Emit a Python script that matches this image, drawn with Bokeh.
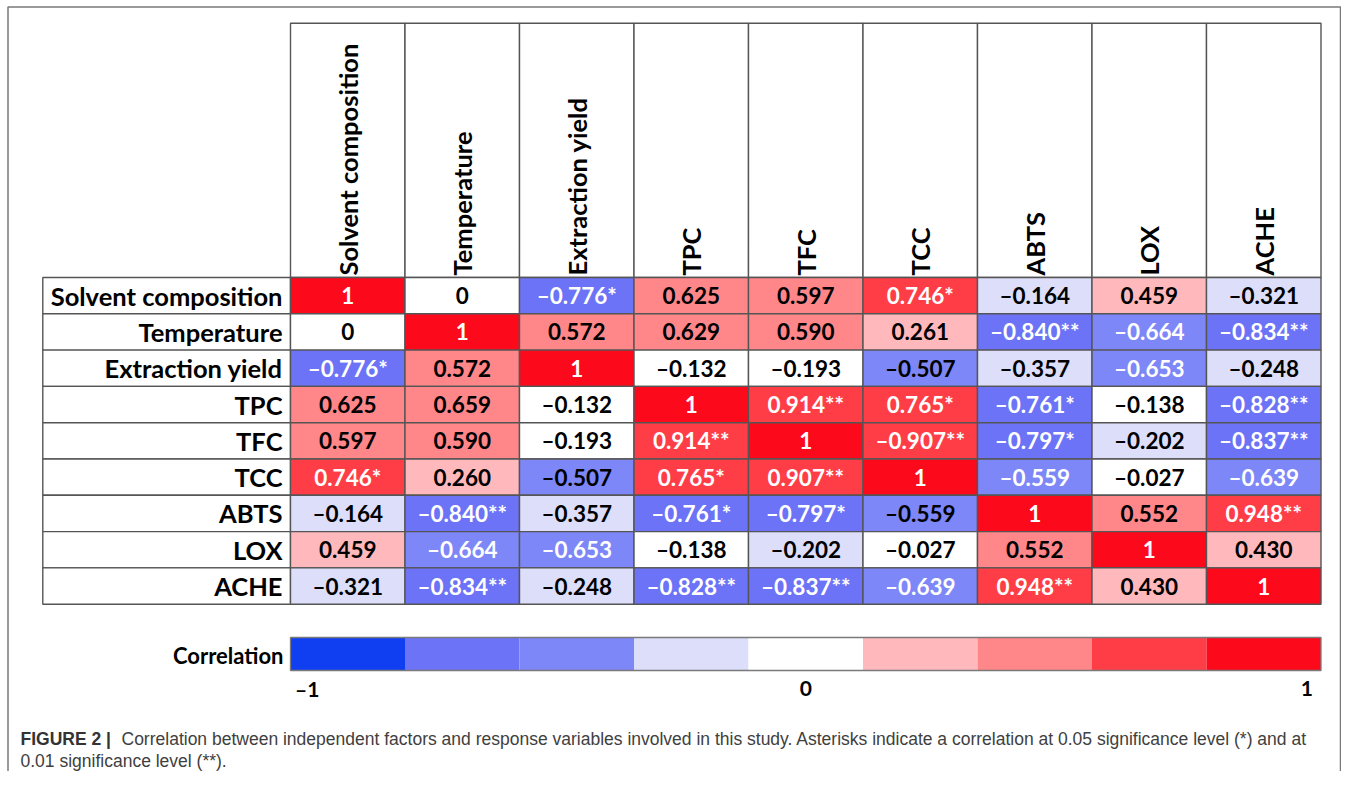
import numpy as np
from bokeh.plotting import figure
from bokeh.models import Range1d, ColumnDataSource
from bokeh.core.properties import value
from bokeh.embed import file_html
from bokeh.resources import INLINE

# ---------------- data ----------------
variables = ["Solvent composition", "Temperature", "Extraction yield", "TPC", "TFC",
             "TCC", "ABTS", "LOX", "ACHE"]

# printed cell labels, row by row (as shown in the table)
labels_sc   = ["1", "0", "–0.776*", "0.625", "0.597", "0.746*", "–0.164", "0.459", "–0.321"]
labels_temp = ["0", "1", "0.572", "0.629", "0.590", "0.261", "–0.840**", "–0.664", "–0.834**"]
labels_ey   = ["–0.776*", "0.572", "1", "–0.132", "–0.193", "–0.507", "–0.357", "–0.653", "–0.248"]
labels_tpc  = ["0.625", "0.659", "–0.132", "1", "0.914**", "0.765*", "–0.761*", "–0.138", "–0.828**"]
labels_tfc  = ["0.597", "0.590", "–0.193", "0.914**", "1", "–0.907**", "–0.797*", "–0.202", "–0.837**"]
labels_tcc  = ["0.746*", "0.260", "–0.507", "0.765*", "0.907**", "1", "–0.559", "–0.027", "–0.639"]
labels_abts = ["–0.164", "–0.840**", "–0.357", "–0.761*", "–0.797*", "–0.559", "1", "0.552", "0.948**"]
labels_lox  = ["0.459", "–0.664", "–0.653", "–0.138", "–0.202", "–0.027", "0.552", "1", "0.430"]
labels_ache = ["–0.321", "–0.834**", "–0.248", "–0.828**", "–0.837**", "–0.639", "0.948**", "0.430", "1"]

# colour class of each cell (index into the 9-step colour scale)
level_sc   = [8, 4, 1, 6, 6, 7, 3, 5, 3]
level_temp = [4, 8, 6, 6, 6, 5, 1, 2, 1]
level_ey   = [1, 6, 8, 4, 4, 2, 3, 2, 3]
level_tpc  = [6, 6, 4, 8, 7, 7, 1, 4, 1]
level_tfc  = [6, 6, 4, 7, 8, 7, 1, 3, 1]
level_tcc  = [7, 5, 2, 7, 7, 8, 2, 4, 2]
level_abts = [3, 1, 3, 1, 1, 2, 8, 6, 7]
level_lox  = [5, 2, 2, 4, 3, 4, 6, 8, 5]
level_ache = [3, 1, 3, 1, 1, 2, 7, 5, 8]

# white (1) or black (0) label text
white_sc   = [1, 0, 1, 0, 0, 1, 0, 0, 0]
white_temp = [0, 1, 0, 0, 0, 0, 1, 1, 1]
white_ey   = [1, 0, 1, 0, 0, 0, 0, 1, 0]
white_tpc  = [0, 0, 0, 1, 1, 1, 1, 0, 1]
white_tfc  = [0, 0, 0, 1, 1, 1, 1, 0, 1]
white_tcc  = [1, 0, 0, 1, 1, 1, 1, 0, 1]
white_abts = [0, 1, 0, 1, 1, 0, 1, 0, 1]
white_lox  = [0, 1, 1, 0, 0, 0, 0, 1, 0]
white_ache = [0, 1, 0, 1, 1, 1, 1, 0, 1]

scale_colors = ["#0f3ff0", "#6c73f6", "#7e87f7", "#dcdefa", "#ffffff",
                "#ffb9bc", "#ff8689", "#ff3d47", "#fc0a1c"]
scale_ticks = [-1, 0, 1]
scale_tick_labels = ["–1", "0", "1"]

caption_bold = "FIGURE 2 |"
caption_line1 = ("Correlation between independent factors and response variables involved in this study. "
                 "Asterisks indicate a correlation at 0.05 significance level (*) and at")
caption_line2 = "0.01 significance level (**)."

labels = [labels_sc, labels_temp, labels_ey, labels_tpc, labels_tfc, labels_tcc,
          labels_abts, labels_lox, labels_ache]
levels = [level_sc, level_temp, level_ey, level_tpc, level_tfc, level_tcc,
          level_abts, level_lox, level_ache]
whites = [white_sc, white_temp, white_ey, white_tpc, white_tfc, white_tcc,
          white_abts, white_lox, white_ache]

# ---------------- layout ----------------
W, H = 1341, 771
CELL_W, CELL_H = 114.5, 36.3
X0, Y0 = 290.0, 277.0   # position of the first cell's top-left corner


def dx(px):
    return (px - X0) / CELL_W


def dy(py):
    return (py - Y0) / CELL_H


n = len(variables)
FONT = value("Lato")
GRID = "#555555"

p = figure(width=W, height=H,
           x_range=Range1d(dx(0), dx(W)),
           y_range=Range1d(dy(H), dy(0)),
           output_backend="svg", toolbar_location=None,
           x_axis_location=None, y_axis_location=None, min_border=0)
p.grid.visible = False
p.outline_line_color = None
p.background_fill_color = "white"
p.border_fill_color = "white"

# outer figure frame (open at the bottom)
p.multi_line(xs=[[dx(7.5), dx(7.5), dx(1340), dx(1340)]],
             ys=[[dy(790), dy(6.5), dy(6.5), dy(790)]],
             line_color="#7a7a7a", line_width=1.5)

# column header boxes
cols = list(range(n))
hdr_top = dy(22.7)
p.quad(left=cols, right=[c + 1 for c in cols], top=[hdr_top] * n, bottom=[0] * n,
       fill_color="white", line_color=GRID, line_width=1.4)
p.text(x=[c + 0.5 for c in cols], y=[dy(275)] * n, text=variables, angle=np.pi / 2,
       text_align="left", text_baseline="middle", text_font=FONT,
       text_font_style="bold", text_font_size="25.5px", text_color="black")

# row header boxes
lab_left = dx(42.3)
p.quad(left=[lab_left] * n, right=[0] * n, top=cols, bottom=[r + 1 for r in cols],
       fill_color="white", line_color=GRID, line_width=1.4)
p.text(x=[dx(282)] * n, y=[r + 0.5 for r in cols], text=variables,
       text_align="right", text_baseline="middle", text_font=FONT,
       text_font_style="bold", text_font_size="25.5px", text_color="black")

# heat-map cells
cx, cy, ctext, cfill, ctc = [], [], [], [], []
for r in range(n):
    for c in range(n):
        cx.append(c)
        cy.append(r)
        ctext.append(labels[r][c])
        cfill.append(scale_colors[levels[r][c]])
        ctc.append("white" if whites[r][c] else "black")
src = ColumnDataSource(dict(left=cx, right=[v + 1 for v in cx], top=cy,
                            bottom=[v + 1 for v in cy], xc=[v + 0.5 for v in cx],
                            yc=[v + 0.5 for v in cy], txt=ctext, fill=cfill, tc=ctc))
p.quad(left="left", right="right", top="top", bottom="bottom", source=src,
       fill_color="fill", line_color=GRID, line_width=1.4)
p.text(x="xc", y="yc", text="txt", source=src, text_color="tc",
       text_align="center", text_baseline="middle", text_font=FONT,
       text_font_style="bold", text_font_size="22.5px")

# colour scale bar
edges = np.linspace(-1, 1, len(scale_colors) + 1)
to_x = lambda v: (v + 1) / 2 * n
bar_top, bar_bot = dy(637), dy(670)
p.quad(left=[to_x(e) for e in edges[:-1]], right=[to_x(e) for e in edges[1:]],
       top=[bar_top] * len(scale_colors), bottom=[bar_bot] * len(scale_colors),
       fill_color=scale_colors, line_color=None)
p.quad(left=[to_x(-1)], right=[to_x(1)], top=[bar_top], bottom=[bar_bot],
       fill_color=None, line_color="#7a7a7a", line_width=1.3)
p.text(x=[dx(283)], y=[dy(655)], text=["Correlation"], text_align="right",
       text_baseline="middle", text_font=FONT, text_font_style="bold",
       text_font_size="22px", text_color="black")
tick_align = ["left", "center", "right"]
tick_off = [0.04, 0.0, -0.07]
for t, lab, al, off in zip(scale_ticks, scale_tick_labels, tick_align, tick_off):
    p.text(x=[to_x(t) + off], y=[dy(688)], text=[lab], text_align=al,
           text_baseline="middle", text_font=FONT, text_font_style="bold",
           text_font_size="21px", text_color="black")

# caption
CAP_FONT = value("Liberation Sans")
p.text(x=[dx(20)], y=[dy(738)], text=[caption_bold], text_align="left",
       text_baseline="middle", text_font=CAP_FONT, text_font_style="bold",
       text_font_size="17.5px", text_color="#333333")
p.text(x=[dx(121)], y=[dy(738)], text=[caption_line1], text_align="left",
       text_baseline="middle", text_font=CAP_FONT, text_font_size="17.5px",
       text_color="#404040")
p.text(x=[dx(20)], y=[dy(760)], text=[caption_line2], text_align="left",
       text_baseline="middle", text_font=CAP_FONT, text_font_size="17.5px",
       text_color="#404040")

open("out.html", "w").write(file_html(p, INLINE))
